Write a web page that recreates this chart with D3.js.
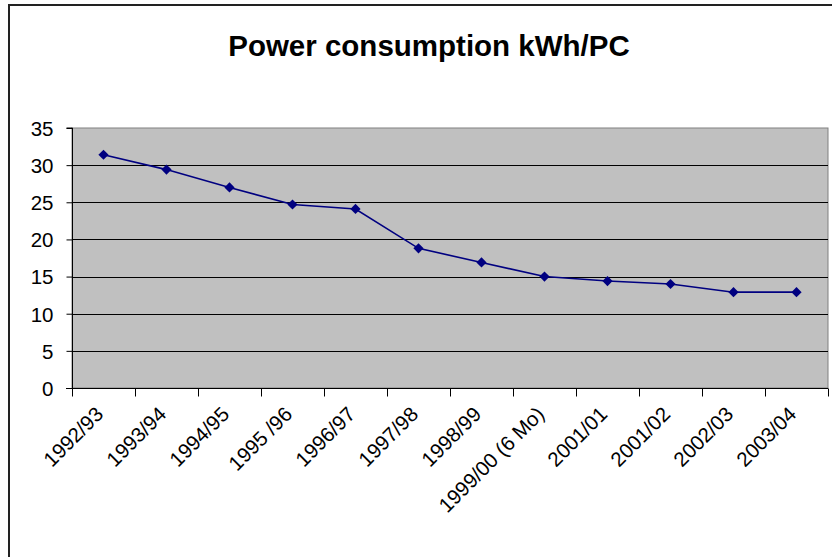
<!DOCTYPE html>
<html>
<head>
<meta charset="utf-8">
<script src="https://cdn.jsdelivr.net/npm/d3@7"></script>
<style>
  body { margin: 0; background: #fff; }
  text { font-family: "Liberation Sans", Arial, sans-serif; fill: #000; }
</style>
</head>
<body>
<div class="chart"></div>
<script>
'use strict'

const years = [
    '1992/93', '1993/94', '1994/95', '1995 /96', '1996/97', '1997/98'
  , '1998/99', '1999/00 (6 Mo)', '2001/01', '2001/02', '2002/03', '2003/04'
]
const kwhPerPc = [31.4, 29.4, 27.0, 24.7, 24.1, 18.8, 16.9, 15.0, 14.4, 14.0, 12.9, 12.9]
const yTicks = [0, 5, 10, 15, 20, 25, 30, 35]

const width = 832
const height = 557
const plot = { left: 72, top: 128, right: 828, bottom: 388 }

const svg = d3.select('.chart').append('svg')
    .attr('width', width)
    .attr('height', height)

// outer chart frame
svg.append('rect')
    .attr('x', 9).attr('y', 5)
    .attr('width', 900).attr('height', 600)
    .style('fill', 'none').style('stroke', '#222').style('stroke-width', 2)

svg.append('text')
    .attr('x', 429).attr('y', 56)
    .attr('text-anchor', 'middle')
    .style('font-size', '29.5px').style('font-weight', 'bold')
    .text('Power consumption kWh/PC')

const x = d3.scaleBand()
    .domain(years)
    .range([ plot.left, plot.right ])

const y = d3.scaleLinear()
    .domain([ 0, 35 ])
    .range([ plot.bottom, plot.top ])

// plot background
svg.append('rect')
    .attr('x', plot.left).attr('y', plot.top)
    .attr('width', plot.right - plot.left).attr('height', plot.bottom - plot.top)
    .style('fill', '#c0c0c0').style('stroke', '#808080').style('stroke-width', 1)

// gridlines
svg.selectAll('.grid')
    .data(yTicks.slice(1, -1))
  .enter().append('line')
    .attr('x1', plot.left).attr('x2', plot.right)
    .attr('y1', d => Math.round(y(d)) + 0.5).attr('y2', d => Math.round(y(d)) + 0.5)
    .style('stroke', '#000').style('stroke-width', 1)

// y axis
const yAxis = svg.append('g')
    .attr('transform', `translate(${plot.left + 0.5},0)`)
    .call(d3.axisLeft(y).tickValues(yTicks).tickSize(6).tickPadding(13))
yAxis.select('.domain').attr('d', `M-6,${plot.top}H0V${plot.bottom}`)
yAxis.selectAll('text').style('font-size', '20.5px').attr('dy', '0.36em')

// x axis, ticks at category boundaries
const bounds = years.map(d => x(d)).concat([ plot.right ])
const xAxis = svg.append('g')
    .attr('transform', `translate(0,${plot.bottom + 0.5})`)
xAxis.append('line')
    .attr('x1', plot.left - 6).attr('x2', plot.right)
    .style('stroke', '#000')
xAxis.selectAll('.xtick')
    .data(bounds)
  .enter().append('line')
    .attr('x1', d => Math.round(d) + 0.5).attr('x2', d => Math.round(d) + 0.5)
    .attr('y1', 0).attr('y2', 8)
    .style('stroke', '#000')
xAxis.selectAll('.xlabel')
    .data(years)
  .enter().append('text')
    .attr('transform', d => `translate(${x(d) + x.bandwidth() / 2 + 1},${27}) rotate(-45)`)
    .attr('text-anchor', 'end')
    .style('font-size', '20.5px')
    .text(d => d)

// series
const pts = years.map((d, i) => [ x(d) + x.bandwidth() / 2, y(kwhPerPc[i]) ])

svg.append('path')
    .datum(pts)
    .attr('d', d3.line())
    .style('fill', 'none').style('stroke', '#000080').style('stroke-width', 1.6)

svg.selectAll('.marker')
    .data(pts)
  .enter().append('path')
    .attr('d', d3.symbol(d3.symbolSquare, 52))
    .attr('transform', d => `translate(${d[0]},${d[1]}) rotate(45)`)
    .style('fill', '#000080')
</script>
</body>
</html>
